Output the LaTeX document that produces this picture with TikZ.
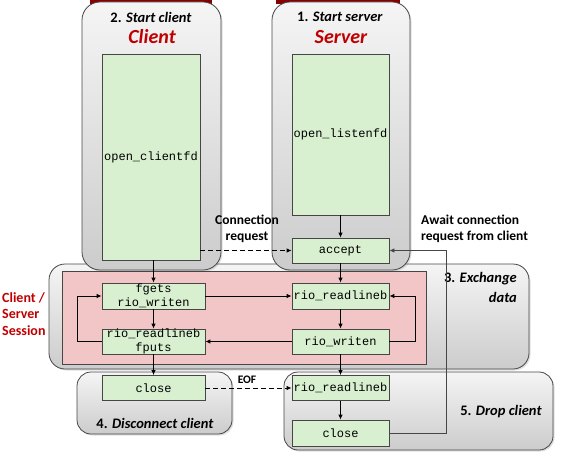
\documentclass[tikz,border=0pt]{standalone}
\usepackage{fontspec}
\setmainfont{Carlito}
\newfontfamily\codefont{Liberation Mono}
\usetikzlibrary{shadows,arrows.meta}
\definecolor{boxgreen}{RGB}{216,240,208}
\definecolor{pinkbg}{RGB}{242,198,198}
\definecolor{darkred}{RGB}{192,0,0}
\definecolor{edgegray}{RGB}{70,70,70}
\tikzset{
  panel/.style={draw=edgegray, line width=0.8pt, top color=gray!8, bottom color=gray!40,
    drop shadow={shadow xshift=1.5pt, shadow yshift=-1.5pt, opacity=0.25}},
  fn/.style={draw=edgegray, line width=0.8pt, fill=boxgreen, inner sep=0pt,
    font=\codefont\fontsize{12}{13.5}\selectfont, align=center},
  arr/.style={-{Latex[length=5pt,width=4.5pt]}, line width=0.9pt},
  dasharr/.style={arr, dash pattern=on 5pt off 3pt},
  lbl/.style={font=\bfseries\fontsize{13.5}{16}\selectfont, inner sep=0pt, align=center},
  ttl/.style={font=\bfseries\fontsize{14.5}{18}\selectfont, inner sep=0pt},
  big/.style={font=\bfseries\itshape\fontsize{20}{22}\selectfont, text=darkred, inner sep=0pt},
}
\begin{document}
\begin{tikzpicture}[x=1pt,y=-1pt]
\useasboundingbox (0,0) rectangle (577,457);
% red slivers at top
\fill[darkred!70!black] (90,-10) rectangle (212,4);
\fill[darkred!70!black] (276,-10) rectangle (400,4);
% exchange panel
\draw[panel, rounded corners=16pt] (49,264) rectangle (529,369);
% client and server panels
\draw[panel, rounded corners=18pt] (82,2) rectangle (221,270);
\draw[panel, rounded corners=18pt] (272,2) rectangle (410,270);
% pink session area
\draw[draw=edgegray, line width=0.8pt, fill=pinkbg] (62,271) rectangle (426,364);
% disconnect and drop panels
\draw[panel, rounded corners=14pt] (77,372) rectangle (232,434);
\draw[panel, rounded corners=14pt] (284,372) rectangle (553,450);

% titles
\node[ttl] (t2) at (151,17) {2. \textit{Start client}};
\node[big] (tc) at (152,37) {Client};
\node[ttl] (t1) at (340,17) {1. \textit{Start server}};
\node[big] (ts) at (341,37) {Server};
\node[ttl, anchor=east] (t3a) at (517,279) {3. \textit{Exchange}};
\node[ttl, anchor=east] (t3b) at (517,297) {\textit{data}};
\node[ttl] (t4) at (155,423) {4. \textit{Disconnect client}};
\node[ttl] (t5) at (501,412) {5. \textit{Drop client}};
\node[lbl, text=darkred, align=left, anchor=north west, font=\bfseries\fontsize{14}{16.5}\selectfont] (sess) at (2,292) {Client /\\Server\\Session};
\node[lbl] (conn) at (247,228.5) {Connection\\request};
\node[lbl, align=left, anchor=west] (await) at (421,228.5) {Await connection\\request from client};
\node[lbl, font=\bfseries\fontsize{11.5}{13}\selectfont] (eof) at (247,380) {EOF};

% function boxes
\node[fn, minimum width=98pt, minimum height=206pt] (cfd) at (151,157) {open\_clientfd};
\node[fn, minimum width=97pt, minimum height=161pt] (lfd) at (340.5,134.5) {open\_listenfd};
\node[fn, minimum width=97pt, minimum height=25pt] (acc) at (340.5,250.5) {accept};
\node[fn, minimum width=103pt, minimum height=26pt] (fg) at (153.5,296) {fgets\\rio\_writen};
\node[fn, minimum width=103pt, minimum height=25pt] (crl) at (153.5,341.5) {rio\_readlineb\\fputs};
\node[fn, minimum width=97pt, minimum height=26pt] (srl) at (340.5,296) {rio\_readlineb};
\node[fn, minimum width=97pt, minimum height=25pt] (swr) at (340.5,341.5) {rio\_writen};
\node[fn, minimum width=103pt, minimum height=25pt] (ccl) at (153.5,388) {close};
\node[fn, minimum width=97pt, minimum height=25pt] (drl) at (340.5,388) {rio\_readlineb};
\node[fn, minimum width=97pt, minimum height=26pt] (dcl) at (340.5,433) {close};

% coordinates for loops
\coordinate (lpL) at (77,0);
\coordinate (lpR) at (415,0);
\coordinate (lpD) at (446,0);

% connectors
\draw[arr] (cfd.south -| fg.north) -- (fg.north);
\draw[dasharr] (cfd.east |- acc.west) -- (acc.west);
\draw[arr] (lfd.south) -- (acc.north);
\draw[arr] (acc.south) -- (srl.north);
\draw[arr] (fg.east) -- (srl.west);
\draw[arr] (srl.south) -- (swr.north);
\draw[arr] (swr.east) -- (swr.east -| lpR) -- (srl.east -| lpR) -- (srl.east);
\draw[arr] (swr.west) -- (crl.east);
\draw[arr] (fg.south) -- (crl.north);
\draw[arr] (crl.west) -- (crl.west -| lpL) -- (fg.west -| lpL) -- (fg.west);
\draw[arr] (crl.south) -- (ccl.north);
\draw[arr] (swr.south) -- (drl.north);
\draw[dasharr] (ccl.east) -- (drl.west);
\draw[arr] (drl.south) -- (dcl.north);
\draw[arr, line width=0.8pt, draw=edgegray] (dcl.east) -- (dcl.east -| lpD) -- (acc.east -| lpD) -- (acc.east);
\end{tikzpicture}
\end{document}
